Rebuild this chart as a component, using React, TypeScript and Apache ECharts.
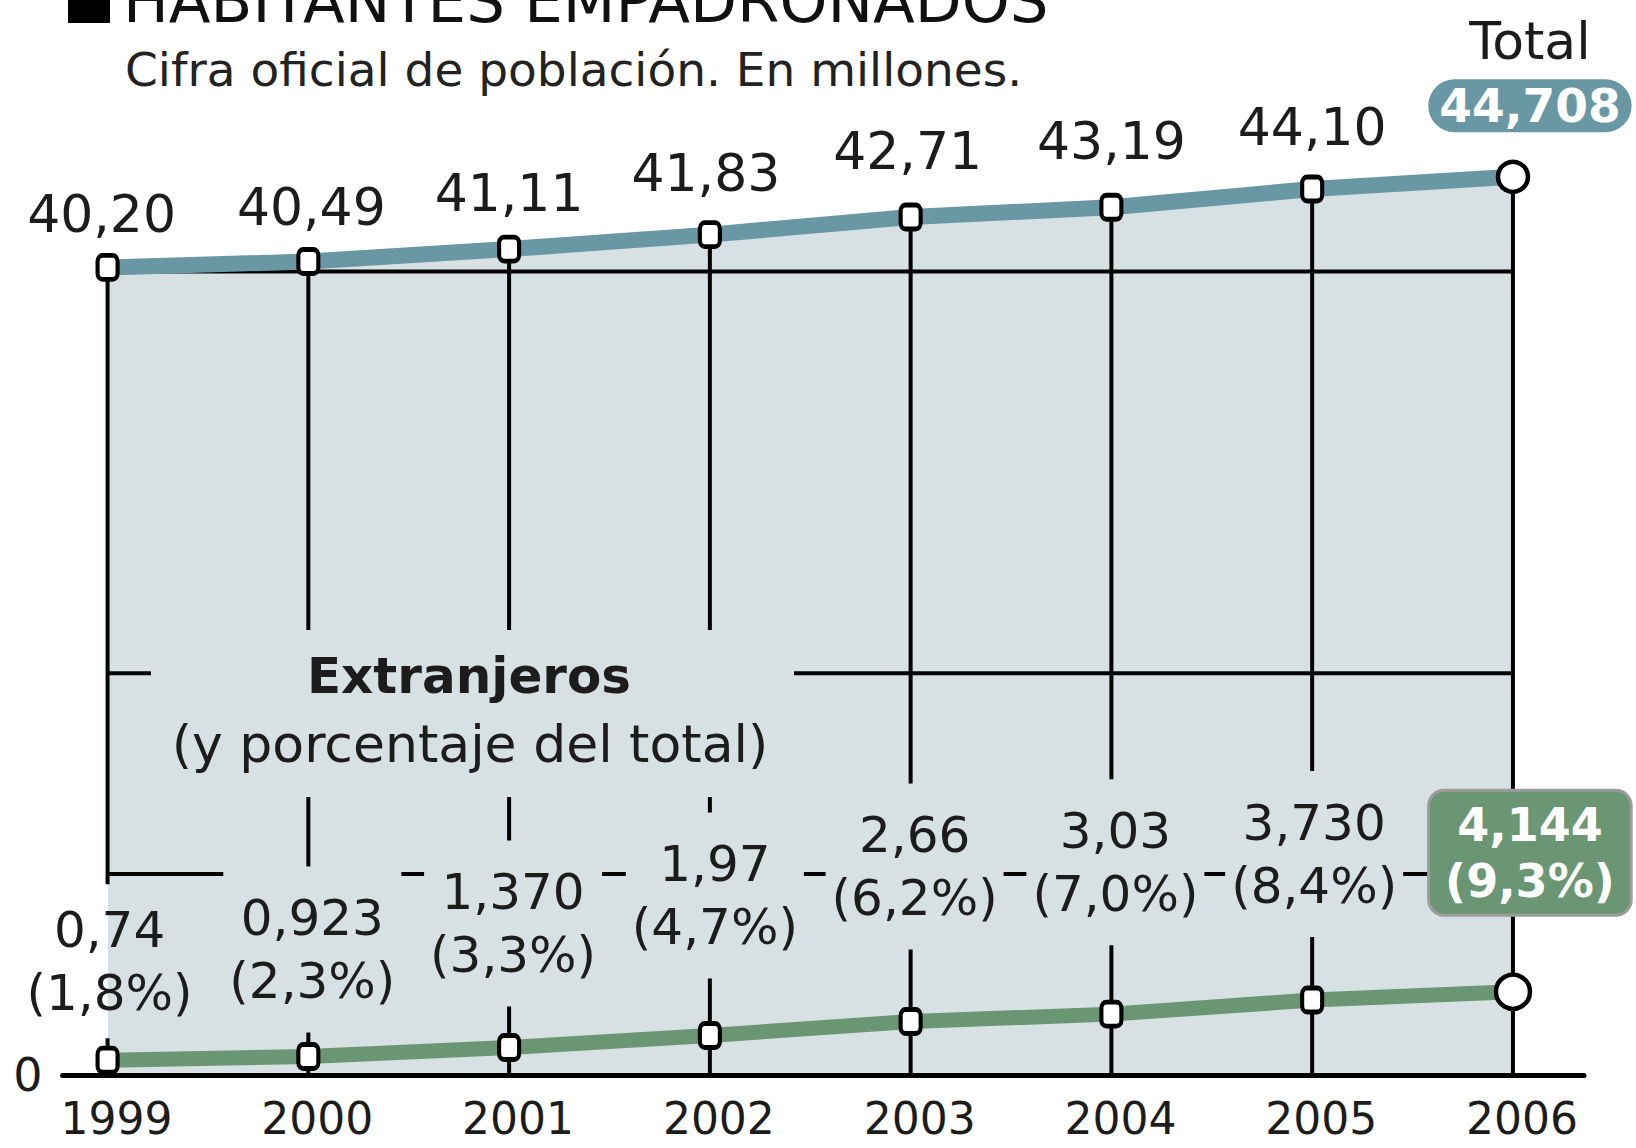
import React, { useEffect, useRef } from "react";
import * as echarts from "echarts";

// ---- data ----
const years = [1999, 2000, 2001, 2002, 2003, 2004, 2005, 2006];
const totalValues = [40.2, 40.49, 41.11, 41.83, 42.71, 43.19, 44.1, 44.708];
const totalLabels = ["40,20", "40,49", "41,11", "41,83", "42,71", "43,19", "44,10", "44,708"];
const foreignValues = [0.74, 0.923, 1.37, 1.97, 2.66, 3.03, 3.73, 4.144];
const foreignLabels = ["0,74", "0,923", "1,370", "1,97", "2,66", "3,03", "3,730", "4,144"];
const foreignShares = ["1,8%", "2,3%", "3,3%", "4,7%", "6,2%", "7,0%", "8,4%", "9,3%"];
const gridValues = [10, 20, 40];
const yTickLabels = [0];

const titleText = "HABITANTES EMPADRONADOS";
const subtitleText = "Cifra oficial de población. En millones.";
const totalTitle = "Total";
const foreignTitle = "Extranjeros";
const foreignSubtitle = "(y porcentaje del total)";

// ---- styles ----
const FONT = "'DejaVu Sans', sans-serif";
const AREA = "#d7e0e3";
const TEAL = "#6a97a4";
const GREEN = "#6a9673";
const INK = "#1c1c1c";

// label offsets (px) relative to each point: style only
const totalLabelOffsets = [[-6, -53], [3, -55], [0, -56], [-4, -62], [-3, -66], [0, -66], [0, -62], [17, -111]];
const foreignLabelOffsets = [[2, -99], [4, -107], [4, -124], [5, -140], [4, -155], [4, -152], [2, -146], [17, -139]];

export default function App() {
  const ref = useRef<HTMLDivElement>(null);

  useEffect(() => {
    if (!ref.current) return;
    const chart = echarts.init(ref.current, null, { renderer: "svg" });
    const last = years.length - 1;

    const totalData = years.map((y, i) => {
      const item: any = {
        value: [y, totalValues[i]],
        label: { offset: totalLabelOffsets[i] },
      };
      if (i === last) {
        item.symbol = "circle";
        item.symbolSize = 30;
        item.label = {
          offset: totalLabelOffsets[i],
          formatter: `{t|${totalTitle}}\n{p|${totalLabels[i]}}`,
          rich: {
            t: { fontFamily: FONT, fontSize: 52, lineHeight: 80, color: INK },
            p: {
              fontFamily: FONT,
              fontSize: 47,
              fontWeight: "bold",
              lineHeight: 50,
              color: "#ffffff",
              backgroundColor: TEAL,
              borderRadius: 28,
              padding: [3, 11, 3, 11],
            },
          },
        };
      }
      return item;
    });

    // first label sits half outside the shaded area: white left of the first year, area colour right of it
    const firstLabelBg = new echarts.graphic.LinearGradient(0, 0, 1, 0, [
      { offset: 0, color: "#ffffff" },
      { offset: 0.49, color: "#ffffff" },
      { offset: 0.49, color: AREA },
      { offset: 1, color: AREA },
    ]);

    const foreignData = years.map((y, i) => {
      const item: any = {
        value: [y, foreignValues[i]],
        label: { offset: foreignLabelOffsets[i] },
      };
      if (i === 0) {
        item.label = {
          offset: foreignLabelOffsets[i],
          backgroundColor: firstLabelBg,
          padding: [8, 6, 20, 6],
        };
      }
      if (i === last) {
        item.symbol = "circle";
        item.symbolSize = 34;
        item.label = {
          offset: foreignLabelOffsets[i],
          color: "#ffffff",
          fontWeight: "bold",
          fontSize: 46,
          lineHeight: 56,
          backgroundColor: GREEN,
          borderColor: "#9c9c9c",
          borderWidth: 3,
          borderRadius: 14,
          padding: [5, 15, 5, 15],
        };
      }
      return item;
    });

    const option: any = {
      animation: false,
      backgroundColor: "#ffffff",
      grid: { left: 62.6, right: 52, top: 70.5, bottom: 73, containLabel: false },
      xAxis: {
        type: "value",
        min: 1998.776,
        max: 2006.354,
        z: 10,
        axisLine: { show: true, onZero: false, lineStyle: { color: "#000", width: 5 } },
        axisTick: { show: false },
        splitLine: { show: false },
        axisLabel: {
          customValues: years,
          formatter: (v: number) => String(Math.round(v)),
          fontFamily: FONT,
          fontSize: 44,
          lineHeight: 36,
          color: INK,
          margin: 25,
          padding: [0, 0, 0, 18],
        },
      },
      yAxis: {
        type: "value",
        min: 0,
        max: 50,
        axisLine: { show: false },
        axisTick: { show: false },
        splitLine: { show: false },
        axisLabel: {
          customValues: yTickLabels,
          fontFamily: FONT,
          fontSize: 46,
          color: INK,
          margin: 20,
        },
      },
      graphic: [
        { type: "rect", z: 20, shape: { x: 68, y: -12, width: 42, height: 35 }, style: { fill: "#000" } },
        {
          type: "text",
          z: 20,
          x: 123,
          y: 0,
          style: { text: titleText, fontFamily: FONT, fontSize: 61, fill: "#111", verticalAlign: "middle", align: "left" },
        },
        {
          type: "text",
          z: 20,
          x: 125,
          y: 69,
          style: { text: subtitleText, fontFamily: FONT, fontSize: 47, fill: "#222", verticalAlign: "middle", align: "left" },
        },
        { type: "rect", z: 4, shape: { x: 151, y: 630, width: 643, height: 167 }, style: { fill: AREA } },
        {
          type: "text",
          z: 5,
          x: 469,
          y: 676,
          style: { text: foreignTitle, fontFamily: FONT, fontSize: 50, fontWeight: "bold", fill: INK, align: "center", verticalAlign: "middle" },
        },
        {
          type: "text",
          z: 5,
          x: 470,
          y: 744,
          style: { text: foreignSubtitle, fontFamily: FONT, fontSize: 52, fill: INK, align: "center", verticalAlign: "middle" },
        },
      ],
      series: [
        {
          name: "area",
          type: "line",
          z: 1,
          silent: true,
          symbol: "none",
          data: years.map((y, i) => [y, totalValues[i]]),
          lineStyle: { width: 0 },
          areaStyle: { color: AREA, opacity: 1 },
        },
        {
          name: "grid",
          type: "custom",
          z: 2,
          silent: true,
          encode: { x: [0, 2], y: 1 },
          data: gridValues.map((v) => [years[0], v, years[last]]),
          renderItem: (params: any, api: any) => {
            const a = api.coord([api.value(0), api.value(1)]);
            const b = api.coord([api.value(2), api.value(1)]);
            return {
              type: "line",
              shape: { x1: a[0], y1: a[1], x2: b[0], y2: b[1] },
              style: { stroke: "#000", lineWidth: 4 },
            };
          },
        },
        {
          name: "drops",
          type: "custom",
          z: 3,
          silent: true,
          data: years.map((y, i) => [y, totalValues[i]]),
          renderItem: (params: any, api: any) => {
            const top = api.coord([api.value(0), api.value(1)]);
            const bottom = api.coord([api.value(0), 0]);
            return {
              type: "line",
              shape: { x1: top[0], y1: top[1], x2: bottom[0], y2: bottom[1] },
              style: { stroke: "#000", lineWidth: 4 },
            };
          },
        },
        {
          name: "Total",
          type: "line",
          z: 6,
          data: totalData,
          showAllSymbol: true,
          symbol: "roundRect",
          symbolSize: [20, 24],
          lineStyle: { color: TEAL, width: 16 },
          itemStyle: { color: "#ffffff", borderColor: "#000", borderWidth: 4.5 },
          label: {
            show: true,
            position: "inside",
            fontFamily: FONT,
            fontSize: 52,
            color: INK,
            formatter: (p: any) => totalLabels[p.dataIndex],
          },
        },
        {
          name: "Extranjeros",
          type: "line",
          z: 7,
          data: foreignData,
          showAllSymbol: true,
          symbol: "roundRect",
          symbolSize: [20, 24],
          lineStyle: { color: GREEN, width: 15 },
          itemStyle: { color: "#ffffff", borderColor: "#000", borderWidth: 4.5 },
          label: {
            show: true,
            position: "inside",
            fontFamily: FONT,
            fontSize: 50,
            lineHeight: 63,
            color: INK,
            backgroundColor: AREA,
            padding: [20, 6, 20, 6],
            formatter: (p: any) => `${foreignLabels[p.dataIndex]}\n(${foreignShares[p.dataIndex]})`,
          },
        },
      ],
    };

    chart.setOption(option);
    return () => chart.dispose();
  }, []);

  return (
    <div
      ref={ref}
      style={{ position: "fixed", left: 0, top: 0, width: 1636, height: 1148, background: "#fff" }}
    />
  );
}
